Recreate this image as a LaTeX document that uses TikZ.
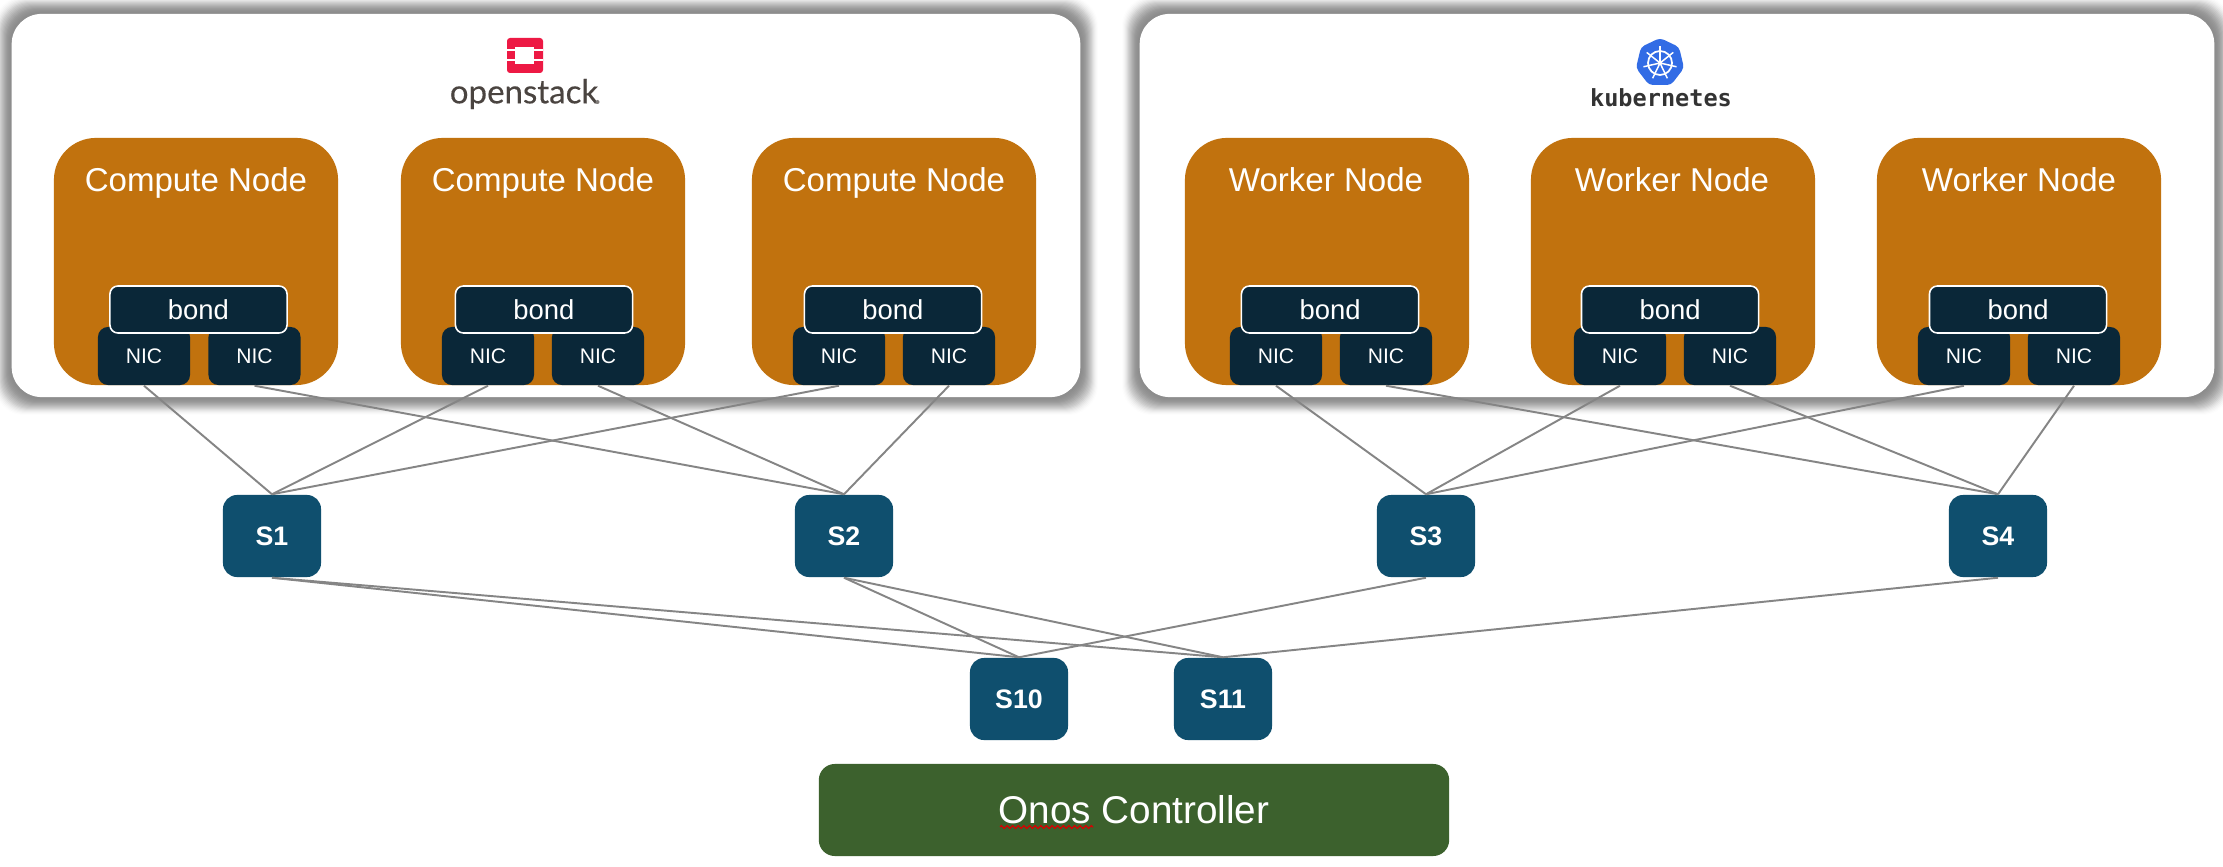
\documentclass[tikz,border=0pt]{standalone}
\usepackage{fontspec}
\setmainfont{Liberation Sans}
\newfontfamily\oslogo[FakeBold=0.25]{Lato}
\newfontfamily\kslogo{DejaVu Sans Mono}
\usetikzlibrary{decorations.pathmorphing}
\definecolor{hostor}{HTML}{C1720E}
\definecolor{nicdk}{HTML}{0A2738}
\definecolor{swblue}{HTML}{0F4F6E}
\definecolor{ctrlgr}{HTML}{3C612D}
\definecolor{lnkgr}{HTML}{858585}
\definecolor{osred}{HTML}{ED1944}
\definecolor{ostxt}{HTML}{4A4440}
\definecolor{ksblue}{HTML}{326CE5}
\definecolor{kstxt}{HTML}{333333}
\tikzset{
  panel/.style={fill=white,rounded corners=0.3cm,minimum width=#1,minimum height=3.83cm,inner sep=0pt},
  host/.style={fill=hostor,rounded corners=0.42cm,minimum width=2.84cm,minimum height=2.47cm,inner sep=0pt},
  hosttitle/.style={text=white,font=\fontsize{9.4}{11}\selectfont,inner sep=0pt,anchor=base},
  nicbox/.style={fill=nicdk,rounded corners=0.1cm,minimum width=0.92cm,minimum height=0.58cm,inner sep=0pt,text=white,font=\fontsize{6}{7}\selectfont},
  bondbox/.style={fill=nicdk,draw=white,line width=0.45pt,rounded corners=0.08cm,minimum width=1.77cm,minimum height=0.47cm,inner sep=0pt,text=white,font=\fontsize{7.8}{9}\selectfont},
  switchbox/.style={fill=swblue,rounded corners=0.14cm,minimum width=0.98cm,minimum height=0.82cm,inner sep=0pt,text=white,font=\fontsize{7.6}{9}\selectfont\bfseries},
  ctrlbox/.style={fill=ctrlgr,rounded corners=0.16cm,minimum width=6.30cm,minimum height=0.92cm,inner sep=0pt,text=white,font=\fontsize{11}{13}\selectfont},
  lnk/.style={draw=lnkgr,line width=0.55pt},
}
\begin{document}
\begin{tikzpicture}[x=0.01cm,y=-0.01cm]
\useasboundingbox (0,0) rectangle (2223,867);
\clip (0,0) rectangle (2223,867);
\fill[white] (0,0) rectangle (2223,867);
% soft shadows of the panels
\foreach \i in {1,...,18}{
  \pgfmathsetmacro{\shop}{0.045*sin(180*\i/19)}
  \fill[black,opacity=\shop,rounded corners=0.3cm] (12-\i,14-\i) rectangle (1080+\i,397+\i);
  \fill[black,opacity=\shop,rounded corners=0.3cm] (1140-\i,14-\i) rectangle (2214+\i,397+\i);
}
\node[panel=10.68cm] (osp) at (546,205.5) {};
\node[panel=10.74cm] (ksp) at (1677,205.5) {};
% OpenStack logo
\fill[osred,rounded corners=0.03cm] (507,38) rectangle (543,73);
\fill[white] (515,47) rectangle (534,64);
\fill[white] (507,49.5) rectangle (515,51.5);
\fill[white] (534,49.5) rectangle (543,51.5);
\fill[white] (507,59.5) rectangle (515,61.5);
\fill[white] (534,59.5) rectangle (543,61.5);
\node[inner sep=0pt,text=ostxt,font=\oslogo\fontsize{9.4}{11}\selectfont] (oslabel) at (524,94) {openstack};
\fill[ostxt!70] (597.5,102) circle (2);
% Kubernetes logo
\fill[ksblue,rounded corners=0.04cm]
  (1660,38) -- (1679,47) -- (1684,68) -- (1671,85) -- (1649,85) -- (1636,68) -- (1641,47) -- cycle;
\draw[white,line width=0.5pt] (1660,63) circle (12);
\fill[white] (1660,63) circle (2.2);
\foreach \a in {90,141.4,192.9,244.3,295.7,347.1,38.6}{
  \draw[white,line width=0.42pt] (1660,63) -- ++({17*cos(\a)},{-17*sin(\a)});
}
\node[inner sep=0pt,text=kstxt,font=\kslogo\bfseries\fontsize{6.7}{8}\selectfont] (kslabel) at (1661,98) {kubernetes};
% hosts
\node[host] (h1) at (196,261.5) {};
\node[host] (h2) at (543,261.5) {};
\node[host] (h3) at (894,261.5) {};
\node[host] (h4) at (1327,261.5) {};
\node[host] (h5) at (1673,261.5) {};
\node[host] (h6) at (2019,261.5) {};
\node[hosttitle] (t1) at (196,192) {Compute Node};
\node[hosttitle] (t2) at (543,192) {Compute Node};
\node[hosttitle] (t3) at (894,192) {Compute Node};
\node[hosttitle] (t4) at (1326,192) {Worker Node};
\node[hosttitle] (t5) at (1672,192) {Worker Node};
\node[hosttitle] (t6) at (2019,192) {Worker Node};
% NICs
\node[nicbox] (n1a) at (144,356) {NIC};
\node[nicbox] (n1b) at (254.5,356) {NIC};
\node[nicbox] (n2a) at (488,356) {NIC};
\node[nicbox] (n2b) at (598,356) {NIC};
\node[nicbox] (n3a) at (839,356) {NIC};
\node[nicbox] (n3b) at (949,356) {NIC};
\node[nicbox] (n4a) at (1276,356) {NIC};
\node[nicbox] (n4b) at (1386,356) {NIC};
\node[nicbox] (n5a) at (1620,356) {NIC};
\node[nicbox] (n5b) at (1730,356) {NIC};
\node[nicbox] (n6a) at (1964,356) {NIC};
\node[nicbox] (n6b) at (2074,356) {NIC};
% bonds
\node[bondbox] (b1) at (198.5,309.5) {bond};
\node[bondbox] (b2) at (544,309.5) {bond};
\node[bondbox] (b3) at (893,309.5) {bond};
\node[bondbox] (b4) at (1330,309.5) {bond};
\node[bondbox] (b5) at (1670,309.5) {bond};
\node[bondbox] (b6) at (2018,309.5) {bond};
% switches
\node[switchbox] (s1) at (272,536) {S1};
\node[switchbox] (s2) at (844,536) {S2};
\node[switchbox] (s3) at (1426,536) {S3};
\node[switchbox] (s4) at (1998,536) {S4};
\node[switchbox] (s10) at (1019,699) {S10};
\node[switchbox] (s11) at (1223,699) {S11};
% controller
\node[ctrlbox] (ctrl) at (1134,810) {Onos Controller};
\draw[red!85!black,line width=0.35pt,decorate,decoration={zigzag,amplitude=0.4pt,segment length=1.6pt}] (1000,827) -- (1093,827);
% links
\foreach \a/\b in {n1a/s1,n2a/s1,n3a/s1,n1b/s2,n2b/s2,n3b/s2,n4a/s3,n5a/s3,n6a/s3,n4b/s4,n5b/s4,n6b/s4,
                   s1/s10,s1/s11,s2/s10,s2/s11,s3/s10,s4/s11}{
  \path[lnk] (\a.south) -- (\b.north);
}
\end{tikzpicture}
\end{document}
